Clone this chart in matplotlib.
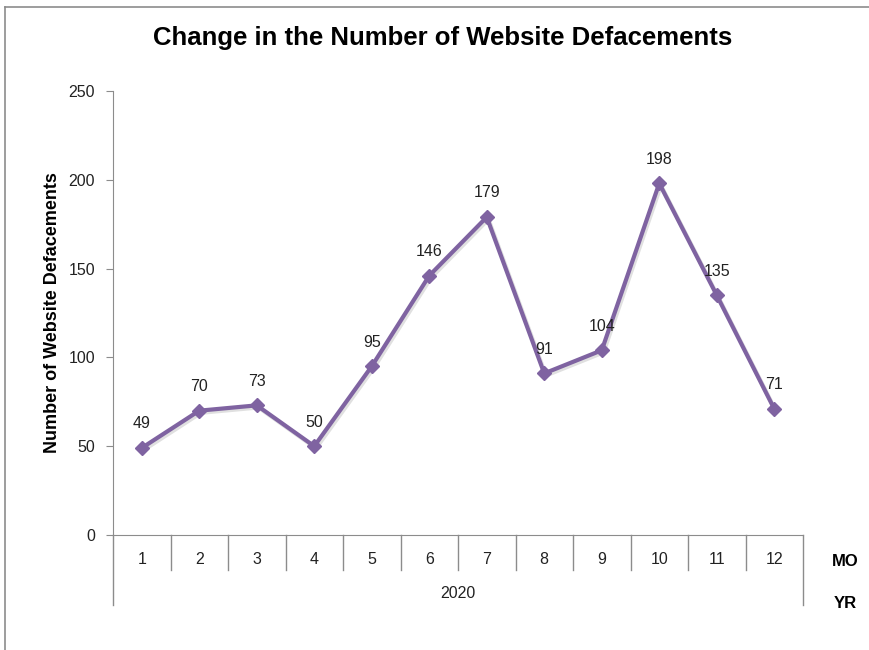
import matplotlib.pyplot as plt
from matplotlib.lines import Line2D
from matplotlib.transforms import blended_transform_factory

months = ["1", "2", "3", "4", "5", "6", "7", "8", "9", "10", "11", "12"]
year = "2020"
counts = [49, 70, 73, 50, 95, 146, 179, 91, 104, 198, 135, 71]
yticks = [0, 50, 100, 150, 200, 250]

PURPLE = "#7f63a1"
GRAY = "#8c8c8c"
TXT = "#222222"
plt.rcParams["font.family"] = ["Liberation Sans", "DejaVu Sans"]

fig = plt.figure(figsize=(8.69, 6.5), dpi=100)
ax = fig.add_axes([113/869, 1 - 535/650, 690/869, 444/650])

x = list(range(1, len(months) + 1))
# faint shadow under the line
ax.plot([xi + 0.03 for xi in x], [v - 1.2 for v in counts], color="#000000", lw=3,
        alpha=0.12, zorder=2, solid_capstyle="round")
ax.plot(x, counts, color=PURPLE, lw=3, marker="D", ms=7, mec=PURPLE, mfc=PURPLE, zorder=3)
for xi, v in zip(x, counts):
    ax.annotate(str(v), (xi, v), xytext=(0, 12), textcoords="offset points",
                ha="center", va="bottom", fontsize=11.5, color=TXT)

ax.set_xlim(0.5, len(months) + 0.5)
ax.set_ylim(0, 250)
ax.set_yticks(yticks)
ax.set_yticklabels([str(t) for t in yticks], fontsize=11.5, color=TXT)
ax.tick_params(axis="y", length=5, color=GRAY, pad=8)
ax.set_xticks([])
for s in ["top", "right"]:
    ax.spines[s].set_visible(False)
ax.spines["left"].set_color(GRAY)
ax.spines["bottom"].set_color(GRAY)
ax.set_ylabel("Number of Website Defacements", fontsize=13, fontweight="bold", labelpad=5)

# category table under the axis
tr = blended_transform_factory(ax.transData, ax.transAxes)
h = 444.0
ax.add_line(Line2D([0.5, 0.5], [0, -70/h], transform=tr, color=GRAY, lw=1, clip_on=False))
ax.add_line(Line2D([12.5, 12.5], [0, -70/h], transform=tr, color=GRAY, lw=1, clip_on=False))
for b in range(1, len(months)):
    ax.add_line(Line2D([b + 0.5, b + 0.5], [0, -35/h], transform=tr, color=GRAY, lw=1, clip_on=False))
for xi, m in zip(x, months):
    ax.text(xi, -24/h, m, transform=tr, ha="center", va="center", fontsize=11.5, color=TXT)
ax.text(6.5, -58/h, year, transform=tr, ha="center", va="center", fontsize=11.5, color=TXT)
fig.text(845/869, 1 - 562/650, "MO", ha="center", va="center", fontsize=12, fontweight="bold")
fig.text(845/869, 1 - 604/650, "YR", ha="center", va="center", fontsize=12, fontweight="bold")

fig.text(443/869, 1 - 38/650, "Change in the Number of Website Defacements",
         ha="center", va="center", fontsize=18.5, fontweight="bold")

# outer chart border (top and left visible)
fig.add_artist(Line2D([5/869, 1], [1 - 7/650, 1 - 7/650], transform=fig.transFigure, color=GRAY, lw=1.2))
fig.add_artist(Line2D([5/869, 5/869], [0, 1 - 7/650], transform=fig.transFigure, color=GRAY, lw=1.2))

fig.savefig("out.png", dpi=100)
